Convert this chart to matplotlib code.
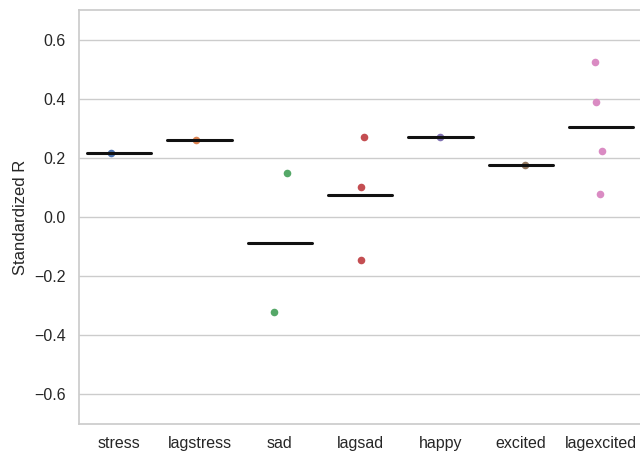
import matplotlib
matplotlib.use('Agg')
import matplotlib.pyplot as plt
import seaborn as sns
import numpy as np

sns.set_theme(style='whitegrid')
plt.rcParams['font.family'] = ['Liberation Sans', 'DejaVu Sans']

# 数据
categories = ['stress', 'lagstress', 'sad', 'lagsad', 'happy', 'excited', 'lagexcited']
values = [
    [0.217],
    [0.261],
    [0.149, -0.322],
    [0.271, 0.102, -0.146],
    [0.271],
    [0.176],
    [0.525, 0.390, 0.224, 0.078],
]
# 抖动偏移
jitter = [
    [-0.10],
    [-0.04],
    [0.09, -0.07],
    [0.05, 0.01, 0.01],
    [0.0],
    [0.05],
    [-0.08, -0.06, 0.01, -0.02],
]

palette = sns.color_palette('deep', len(categories))

fig = plt.figure(figsize=(6.4, 4.54), dpi=100)
ax = fig.add_axes([79 / 640, 30 / 454, 1 - 79 / 640 + 0.002, 414 / 454])

for i, (vals, jit) in enumerate(zip(values, jitter)):
    xs = [i + j for j in jit]
    ax.scatter(xs, vals, s=30, color=palette[i], zorder=3, linewidths=0)
    m = np.mean(vals)
    ax.plot([i - 0.4, i + 0.4], [m, m], color='#111111', lw=2.2, zorder=4,
            solid_capstyle='round')

ax.set_xticks(range(len(categories)))
ax.set_xticklabels(categories, fontsize=11.5)
ax.set_xlim(-0.5, len(categories) - 0.5)
ax.set_ylim(-0.7, 0.7)
ax.set_yticks([-0.6, -0.4, -0.2, 0.0, 0.2, 0.4, 0.6])
ax.set_yticklabels(['\u22120.6', '\u22120.4', '\u22120.2', '0.0', '0.2', '0.4', '0.6'], fontsize=11.5)
ax.set_ylabel('Standardized R', fontsize=12)
ax.xaxis.grid(False)
ax.tick_params(axis='x', pad=2.5)
for s in ax.spines.values():
    s.set_color('#cccccc')

plt.savefig('out.png', dpi=100)
